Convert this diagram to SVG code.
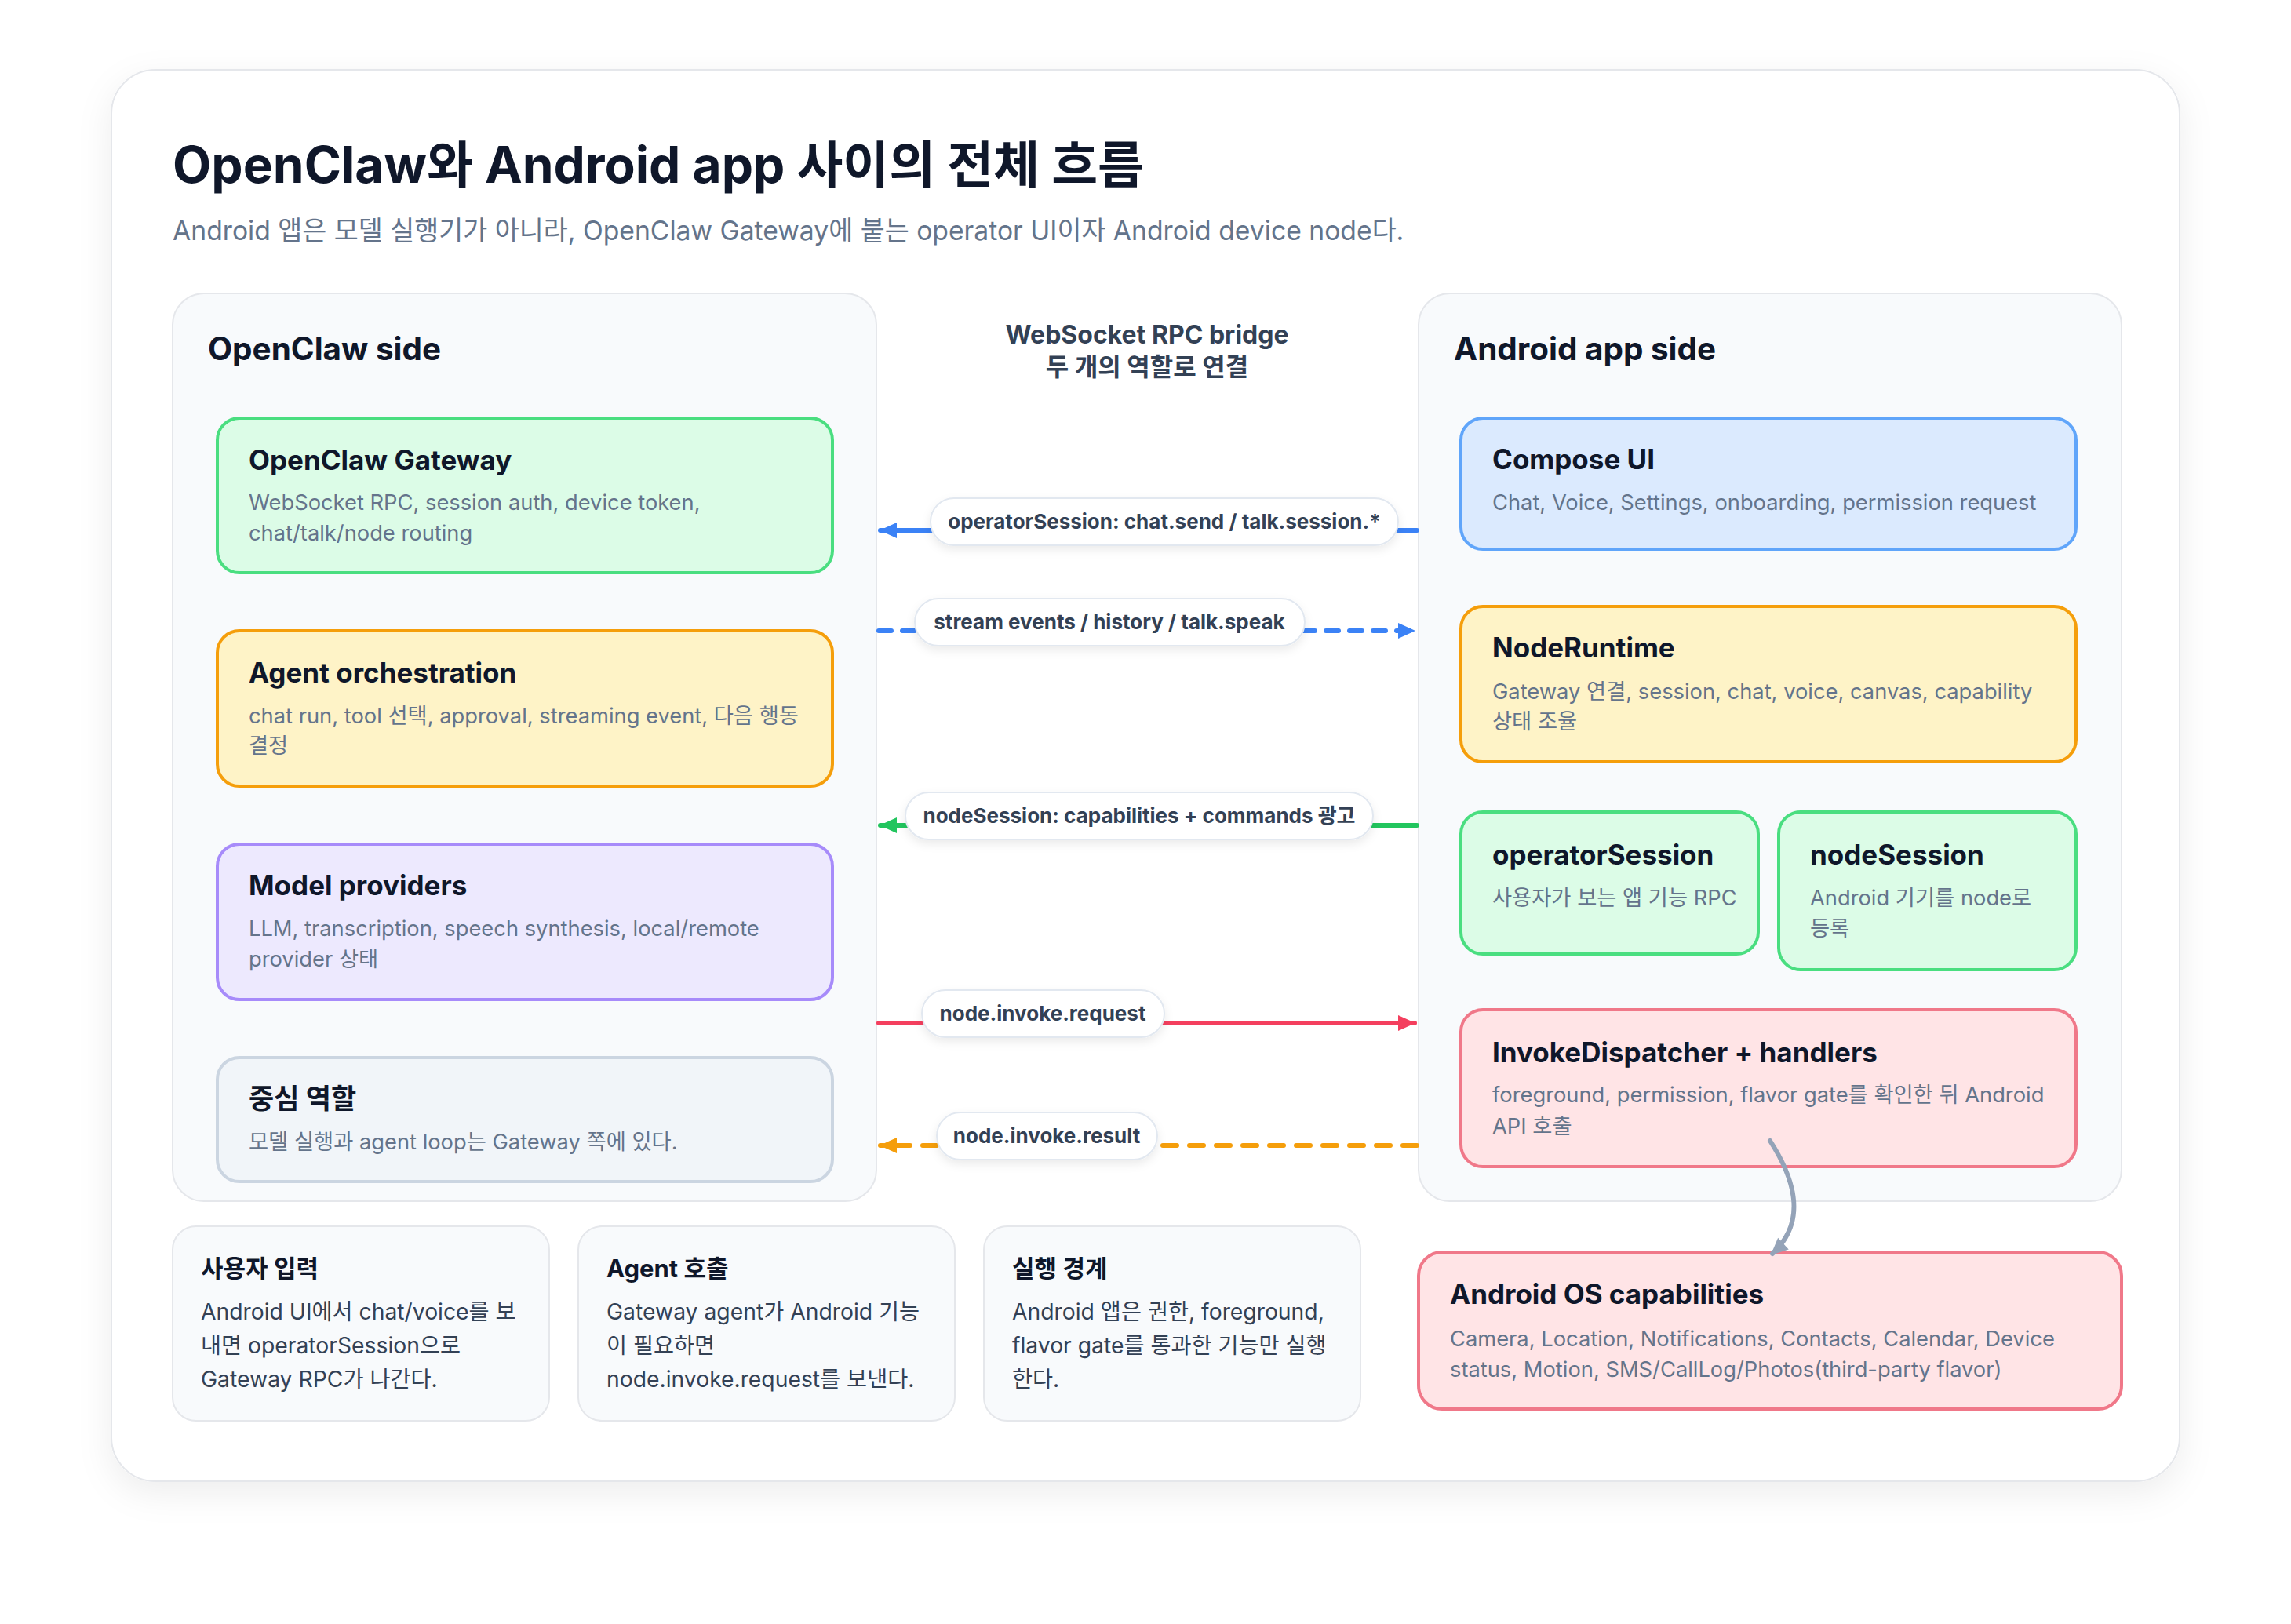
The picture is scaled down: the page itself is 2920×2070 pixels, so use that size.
<svg xmlns="http://www.w3.org/2000/svg" width="2920" height="2070" viewBox="0 0 2920 2070">
<defs>
<style>
text{font-family:Inter,"Noto Sans CJK KR",sans-serif}
.h1{font-size:64px;font-weight:700;fill:#0f172a}
.sub{font-size:33.7px;font-weight:400;fill:#64748b}
.ph{font-size:40.4px;font-weight:700;fill:#0f172a}
.bt{font-size:32px;font-weight:700;fill:#334155}
.nt{font-size:35px;font-weight:700;fill:#0f172a}
.nd{font-size:27.3px;font-weight:400;fill:#64748b}
.pl{font-size:26px;font-weight:700;fill:#334155}
.ct{font-size:31px;font-weight:700;fill:#0f172a}
.cd{font-size:28.3px;font-weight:400;fill:#334155}
.panel{fill:#f8fafc;stroke:#e5e7eb;stroke-width:2}
.card{fill:#f8fafc;stroke:#e5e7eb;stroke-width:2}
.green{fill:#dcfce7;stroke:#4ade80;stroke-width:4}
.amber{fill:#fef3c7;stroke:#f59e0b;stroke-width:4}
.purple{fill:#ede9fe;stroke:#a78bfa;stroke-width:4}
.slate{fill:#f1f5f9;stroke:#cbd5e1;stroke-width:4}
.blue{fill:#dbeafe;stroke:#60a5fa;stroke-width:4}
.rose{fill:#ffe4e6;stroke:#f07889;stroke-width:4}
.pill{fill:#ffffff;stroke:#e2e8f0;stroke-width:2}
.ln{fill:none;stroke-width:6;stroke-linecap:round}
</style>
<filter id="sh" x="-10%" y="-10%" width="120%" height="120%">
<feDropShadow dx="0" dy="14" stdDeviation="22" flood-color="#0f172a" flood-opacity="0.07"/>
</filter>
<filter id="psh" x="-20%" y="-40%" width="140%" height="200%">
<feDropShadow dx="0" dy="5" stdDeviation="6" flood-color="#0f172a" flood-opacity="0.08"/>
</filter>
<marker id="aBlue" markerUnits="userSpaceOnUse" markerWidth="26" markerHeight="24" refX="22" refY="12" orient="auto"><path d="M1,2 L23,12 L1,22 z" fill="#3b82f6"/></marker>
<marker id="aGreen" markerUnits="userSpaceOnUse" markerWidth="26" markerHeight="24" refX="22" refY="12" orient="auto"><path d="M1,2 L23,12 L1,22 z" fill="#22c55e"/></marker>
<marker id="aRed" markerUnits="userSpaceOnUse" markerWidth="26" markerHeight="24" refX="22" refY="12" orient="auto"><path d="M1,2 L23,12 L1,22 z" fill="#f43f5e"/></marker>
<marker id="aAmber" markerUnits="userSpaceOnUse" markerWidth="26" markerHeight="24" refX="22" refY="12" orient="auto"><path d="M1,2 L23,12 L1,22 z" fill="#f59e0b"/></marker>
<marker id="aGray" markerUnits="userSpaceOnUse" markerWidth="26" markerHeight="26" refX="20" refY="13" orient="auto"><path d="M1,3 L23,13 L1,23 z" fill="#94a3b8"/></marker>
</defs>
<rect width="2920" height="2070" fill="#ffffff"/>
<rect x="142" y="89" width="2636" height="1799" rx="56" fill="#ffffff" stroke="#e5e7eb" stroke-width="2" filter="url(#sh)"/>

<g id="title">
<text class="h1" x="220" y="233">OpenClaw와 Android app 사이의 전체 흐름</text>
<text class="sub" x="220" y="306">Android 앱은 모델 실행기가 아니라, OpenClaw Gateway에 붙는 operator UI이자 Android device node다.</text>
</g>

<g id="openclaw-side">
<rect class="panel" x="220" y="374" width="897" height="1157" rx="40"/>
<text class="ph" x="265" y="459">OpenClaw side</text>
</g>
<g id="android-side">
<rect class="panel" x="1808" y="374" width="896" height="1157" rx="40"/>
<text class="ph" x="1853" y="459">Android app side</text>
</g>
<g id="bridge-title">
<text class="bt" x="1462" y="438" text-anchor="middle">WebSocket RPC bridge</text>
<text class="bt" x="1462" y="479" text-anchor="middle">두 개의 역할로 연결</text>
</g>

<g id="gateway">
<rect class="green" x="277" y="533" width="784" height="197" rx="28"/>
<text class="nt" x="317" y="599">OpenClaw Gateway</text>
<text class="nd" x="317" y="650">WebSocket RPC, session auth, device token,</text>
<text class="nd" x="317" y="689">chat/talk/node routing</text>
</g>
<g id="agent">
<rect class="amber" x="277" y="804" width="784" height="198" rx="28"/>
<text class="nt" x="317" y="870">Agent orchestration</text>
<text class="nd" x="317" y="922">chat run, tool 선택, approval, streaming event, 다음 행동</text>
<text class="nd" x="317" y="960">결정</text>
</g>
<g id="models">
<rect class="purple" x="277" y="1076" width="784" height="198" rx="28"/>
<text class="nt" x="317" y="1141">Model providers</text>
<text class="nd" x="317" y="1193">LLM, transcription, speech synthesis, local/remote</text>
<text class="nd" x="317" y="1232">provider 상태</text>
</g>
<g id="core-role">
<rect class="slate" x="277" y="1348" width="784" height="158" rx="28"/>
<text class="nt" x="317" y="1413">중심 역할</text>
<text class="nd" x="317" y="1465">모델 실행과 agent loop는 Gateway 쪽에 있다.</text>
</g>

<g id="compose-ui">
<rect class="blue" x="1862" y="533" width="784" height="167" rx="28"/>
<text class="nt" x="1902" y="598">Compose UI</text>
<text class="nd" x="1902" y="650">Chat, Voice, Settings, onboarding, permission request</text>
</g>
<g id="node-runtime">
<rect class="amber" x="1862" y="773" width="784" height="198" rx="28"/>
<text class="nt" x="1902" y="838">NodeRuntime</text>
<text class="nd" x="1902" y="891">Gateway 연결, session, chat, voice, canvas, capability</text>
<text class="nd" x="1902" y="929">상태 조율</text>
</g>
<g id="operator-session">
<rect class="green" x="1862" y="1035" width="379" height="181" rx="28"/>
<text class="nt" x="1902" y="1102">operatorSession</text>
<text class="nd" x="1902" y="1154">사용자가 보는 앱 기능 RPC</text>
</g>
<g id="node-session">
<rect class="green" x="2267" y="1035" width="379" height="201" rx="28"/>
<text class="nt" x="2307" y="1102">nodeSession</text>
<text class="nd" x="2307" y="1154">Android 기기를 node로</text>
<text class="nd" x="2307" y="1193">등록</text>
</g>
<g id="invoke-dispatcher">
<rect class="rose" x="1862" y="1287" width="784" height="200" rx="28"/>
<text class="nt" x="1902" y="1354">InvokeDispatcher + handlers</text>
<text class="nd" x="1902" y="1405">foreground, permission, flavor gate를 확인한 뒤 Android</text>
<text class="nd" x="1902" y="1445">API 호출</text>
</g>
<g id="android-os">
<rect class="rose" x="1808" y="1596" width="896" height="200" rx="30"/>
<text class="nt" x="1848" y="1662">Android OS capabilities</text>
<text class="nd" x="1848" y="1716">Camera, Location, Notifications, Contacts, Calendar, Device</text>
<text class="nd" x="1848" y="1755">status, Motion, SMS/CallLog/Photos(third-party flavor)</text>
</g>

<g id="user-input">
<rect class="card" x="220" y="1563" width="480" height="248" rx="30"/>
<text class="ct" x="256" y="1628">사용자 입력</text>
<text class="cd" x="256" y="1682">Android UI에서 chat/voice를 보</text>
<text class="cd" x="256" y="1725">내면 operatorSession으로</text>
<text class="cd" x="256" y="1768">Gateway RPC가 나간다.</text>
</g>
<g id="agent-call">
<rect class="card" x="737" y="1563" width="480" height="248" rx="30"/>
<text class="ct" x="773" y="1628">Agent 호출</text>
<text class="cd" x="773" y="1682">Gateway agent가 Android 기능</text>
<text class="cd" x="773" y="1725">이 필요하면</text>
<text class="cd" x="773" y="1768">node.invoke.request를 보낸다.</text>
</g>
<g id="exec-boundary">
<rect class="card" x="1254" y="1563" width="480" height="248" rx="30"/>
<text class="ct" x="1290" y="1628">실행 경계</text>
<text class="cd" x="1290" y="1682">Android 앱은 권한, foreground,</text>
<text class="cd" x="1290" y="1725">flavor gate를 통과한 기능만 실행</text>
<text class="cd" x="1290" y="1768">한다.</text>
</g>

<g id="connectors">
<path class="ln" d="M1806,676 L1122,676" stroke="#3b82f6" marker-end="url(#aBlue)"/>
<path class="ln" d="M1120,804 L1803,804" stroke="#3b82f6" stroke-dasharray="16 14" marker-end="url(#aBlue)"/>
<path class="ln" d="M1806,1052 L1122,1052" stroke="#22c55e" marker-end="url(#aGreen)"/>
<path class="ln" d="M1120,1304 L1803,1304" stroke="#f43f5e" marker-end="url(#aRed)"/>
<path class="ln" d="M1806,1460 L1122,1460" stroke="#f59e0b" stroke-dasharray="18 16" marker-end="url(#aAmber)"/>
<path d="M2256,1454 C2292,1510 2300,1560 2259,1598" fill="none" stroke="#94a3b8" stroke-width="6" stroke-linecap="round" marker-end="url(#aGray)"/>
<rect class="pill" x="1186" y="635" width="596" height="60" rx="30" filter="url(#psh)"/>
<text class="pl" x="1484" y="674" text-anchor="middle">operatorSession: chat.send / talk.session.*</text>
<rect class="pill" x="1166" y="763" width="497" height="60" rx="30" filter="url(#psh)"/>
<text class="pl" x="1414" y="802" text-anchor="middle">stream events / history / talk.speak</text>
<rect class="pill" x="1154" y="1010" width="596" height="60" rx="30" filter="url(#psh)"/>
<text class="pl" x="1452" y="1049" text-anchor="middle">nodeSession: capabilities + commands 광고</text>
<rect class="pill" x="1175" y="1262" width="309" height="60" rx="30" filter="url(#psh)"/>
<text class="pl" x="1329" y="1301" text-anchor="middle">node.invoke.request</text>
<rect class="pill" x="1194" y="1418" width="281" height="60" rx="30" filter="url(#psh)"/>
<text class="pl" x="1334" y="1457" text-anchor="middle">node.invoke.result</text>
</g>
</svg>
